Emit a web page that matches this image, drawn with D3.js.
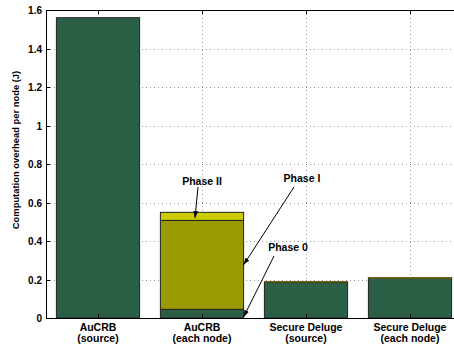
<!DOCTYPE html>
<html>
<head>
<meta charset="utf-8">
<script src="https://cdn.jsdelivr.net/npm/d3@7"></script>
<style>
  html, body { margin: 0; padding: 0; background: #fff; }
  svg { display: block; }
  text { font-family: "Liberation Sans", Arial, Helvetica, sans-serif; font-weight: bold; }
</style>
</head>
<body>
<svg id="chart" width="454" height="344"></svg>
<script>
// Energy spent on computation, per scheme (J)
const categories = [
  ["AuCRB", "(source)"],
  ["AuCRB", "(each node)"],
  ["Secure Deluge", "(source)"],
  ["Secure Deluge", "(each node)"]
];
const phase0 = [1.560, 0.045, 0.185, 0.207];
const phase1 = [0.000, 0.462, 0.003, 0.001];
const phase2 = [0.000, 0.042, 0.000, 0.000];
const yTicks = [0, 0.2, 0.4, 0.6, 0.8, 1, 1.2, 1.4, 1.6];
const yLabel = "Computation overhead per node (J)";
const phaseNames = ["Phase II", "Phase I", "Phase 0"];

const svg = d3.select("#chart");
const plotL = 46, plotT = 10, plotB = 318, plotR = 462;

const x = d3.scaleLinear().domain([0.5, 4.5]).range([plotL, plotR]);
const y = d3.scaleLinear().domain([0, 1.6]).range([plotB, plotT]);
const barW = x(0.8) - x(0);

// grid
const grid = svg.append("g").attr("stroke", "#999").attr("stroke-width", 1)
  .attr("stroke-dasharray", "1,3");
yTicks.slice(1, -1).forEach(t => {
  grid.append("line").attr("x1", plotL).attr("x2", plotR)
    .attr("y1", Math.round(y(t)) + 0.5).attr("y2", Math.round(y(t)) + 0.5);
});
categories.forEach((c, i) => {
  grid.append("line").attr("x1", Math.round(x(i + 1)) + 0.5).attr("x2", Math.round(x(i + 1)) + 0.5)
    .attr("y1", plotT).attr("y2", plotB);
});

// stacked bars
const colors = ["#2b5f45", "#999900", "#cccc00"];
const layers = [phase0, phase1, phase2];
const bars = svg.append("g");
categories.forEach((c, i) => {
  let base = 0;
  layers.forEach((vals, k) => {
    const v = vals[i];
    if (v <= 0) return;
    bars.append("rect")
      .attr("x", x(i + 1) - barW / 2)
      .attr("width", barW)
      .attr("y", y(base + v))
      .attr("height", y(base) - y(base + v))
      .attr("fill", colors[k])
      .attr("stroke", "#222")
      .attr("stroke-width", 1);
    base += v;
  });
});
// thin top layers: draw them as a coloured line so they stay visible
categories.forEach((c, i) => {
  const v1 = phase1[i];
  if (v1 > 0 && v1 < 0.01) {
    bars.append("line")
      .attr("x1", x(i + 1) - barW / 2).attr("x2", x(i + 1) + barW / 2)
      .attr("y1", y(phase0[i] + v1)).attr("y2", y(phase0[i] + v1))
      .attr("stroke", "#6f6512").attr("stroke-width", 1.5);
  }
});

// axes box
svg.append("rect").attr("x", plotL + 0.5).attr("y", plotT + 0.5)
  .attr("width", plotR - plotL).attr("height", plotB - plotT)
  .attr("fill", "none").attr("stroke", "#000").attr("stroke-width", 1);

// y ticks
const yAxis = svg.append("g");
yTicks.forEach(t => {
  const yy = Math.round(y(t)) + 0.5;
  yAxis.append("line").attr("x1", plotL).attr("x2", plotL + 4)
    .attr("y1", yy).attr("y2", yy).attr("stroke", "#000");
  yAxis.append("text").attr("x", plotL - 4).attr("y", yy + 3.5)
    .attr("text-anchor", "end").attr("font-size", 10).text(d3.format("~g")(t));
});

// x ticks
const xAxis = svg.append("g");
categories.forEach((c, i) => {
  const xx = Math.round(x(i + 1)) + 0.5;
  xAxis.append("line").attr("x1", xx).attr("x2", xx)
    .attr("y1", plotB).attr("y2", plotB - 4).attr("stroke", "#000");
  xAxis.append("line").attr("x1", xx).attr("x2", xx)
    .attr("y1", plotT).attr("y2", plotT + 4).attr("stroke", "#000");
  const t = xAxis.append("text").attr("text-anchor", "middle").attr("font-size", 10.5);
  t.append("tspan").attr("x", x(i + 1)).attr("y", 331).text(c[0]);
  t.append("tspan").attr("x", x(i + 1)).attr("y", 342).text(c[1]);
});

// y label
svg.append("text")
  .attr("transform", "translate(19, 150) rotate(-90)")
  .attr("text-anchor", "middle").attr("font-size", 9.4).text(yLabel);

// phase annotations with arrows
const defs = svg.append("defs");
defs.append("marker").attr("id", "arrow").attr("viewBox", "0 0 10 10")
  .attr("refX", 10).attr("refY", 5).attr("markerWidth", 7).attr("markerHeight", 7)
  .attr("orient", "auto")
  .append("path").attr("d", "M0,1.5 L10,5 L0,8.5 Z").attr("fill", "#000");

const barRight = x(2) + barW / 2;
const p2mid = y(phase0[1] + phase1[1] + phase2[1] * 0.3);
const p1mid = y(phase0[1] + phase1[1] * 0.5);
const annot = [
  { text: phaseNames[0], tx: 202, ty: 185, x1: 198, y1: 187, x2: x(2) - 7, y2: p2mid },
  { text: phaseNames[1], tx: 302, ty: 182, x1: 294, y1: 187, x2: barRight, y2: p1mid },
  { text: phaseNames[2], tx: 288, ty: 251, x1: 274, y1: 256, x2: barRight, y2: y(0) - 1 }
];
const ag = svg.append("g");
annot.forEach(a => {
  ag.append("text").attr("x", a.tx).attr("y", a.ty).attr("text-anchor", "middle")
    .attr("font-size", 10.5).text(a.text);
  ag.append("line").attr("x1", a.x1).attr("y1", a.y1).attr("x2", a.x2).attr("y2", a.y2)
    .attr("stroke", "#000").attr("stroke-width", 1).attr("marker-end", "url(#arrow)");
});
</script>
</body>
</html>
